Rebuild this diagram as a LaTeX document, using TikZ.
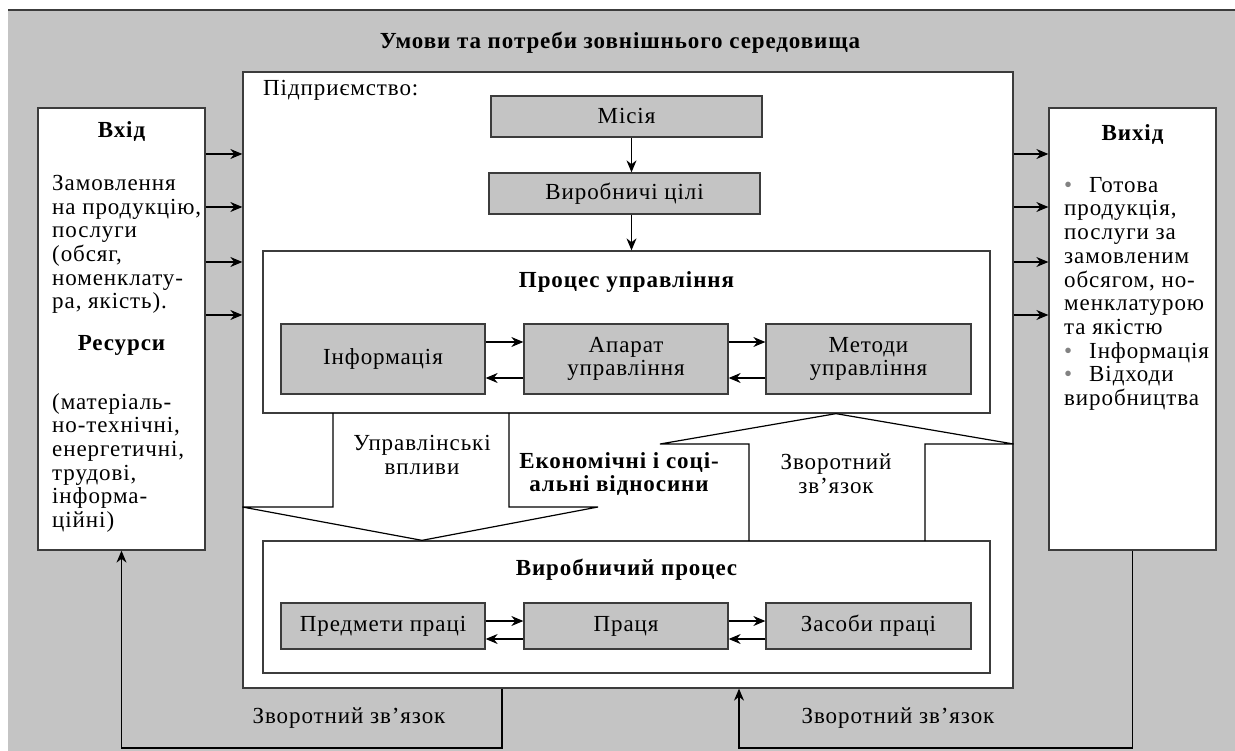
\documentclass[tikz,border=0pt]{standalone}
\usepackage{fontspec}
\setmainfont{Liberation Serif}[LetterSpace=4]
\usetikzlibrary{arrows.meta,positioning}
\definecolor{bggray}{RGB}{196,196,196}
\definecolor{linegray}{RGB}{60,60,60}
\definecolor{dotgray}{RGB}{130,130,130}
\newcommand{\itm}{\makebox[25pt][l]{\color{dotgray}\textbullet}}
\tikzset{
    txt/.style={font=\fontsize{23}{23.7}\selectfont, inner sep=0pt},
    hdr/.style={font=\fontsize{23}{23.7}\selectfont\bfseries, inner sep=0pt},
    whitebox/.style={draw=linegray, line width=1.3pt, fill=white},
    graybox/.style={draw=linegray, line width=1.3pt, fill=bggray, txt, align=center},
    shape line/.style={draw=black, line width=1.2pt},
    arr/.style={-{Stealth[length=12pt,width=10pt]}, line width=1.2pt}
}
\begin{document}
\begin{tikzpicture}[x=1pt,y=-1pt]
    \useasboundingbox (0,0) rectangle (1235,751);
    %% environment
    \fill[bggray] (8,10) rectangle (1235,751);
    \draw[linegray, line width=2.5pt] (8,10) -- (1235,10);
    \node[hdr] (env) at (620,43) {Умови та потреби зовнішнього середовища};

    %% input and output
    \node[whitebox, minimum width=167, minimum height=442] (vhid) at (121.5,329) {};
    \node[whitebox, minimum width=167, minimum height=442] (vyhid) at (1132.5,329) {};
    \node[hdr] (vhidlbl) at (121.5,132) {Вхід};
    \node[txt, align=left, anchor=north west] (orders) at (52,175)
        {Замовлення\\на продукцію,\\послуги\\(обсяг,\\номенклату-\\ра, якість).};
    \node[hdr] (reslbl) at (121.5,345) {Ресурси};
    \node[txt, align=left, anchor=north west] (res) at (52,393)
        {(матеріаль-\\но-технічні,\\енергетичні,\\трудові,\\інформа-\\ційні)};
    \node[hdr] (vyhidlbl) at (1132.5,135) {Вихід};
    \node[txt, align=left, anchor=north west] (outs) at (1064,177)
        {\itm Готова\\продукція,\\послуги за\\замовленим\\обсягом, но-\\менклатурою\\та якістю\\
         \itm Інформація\\\itm Відходи\\виробництва};

    %% enterprise
    \node[whitebox, minimum width=770, minimum height=616] (firm) at (628,380) {};
    \node[txt, anchor=west] (firmlbl) at (263,90) {Підприємство:};
    \foreach \y in {154,207,262,315} {
        \draw[arr] (vhid.east |- 0,\y) -- (firm.west |- 0,\y);
        \draw[arr] (firm.east |- 0,\y) -- (vyhid.west |- 0,\y);
    }
    \node[graybox, minimum width=271, minimum height=41] (misia) at (626.5,116.5) {Місія};
    \node[graybox, minimum width=271, minimum height=41] (goals) at (624.5,193.5) {Виробничі цілі};

    %% management process
    \node[whitebox, minimum width=727, minimum height=162] (mgmt) at (626.5,332) {};
    \node[hdr] (mgmtlbl) at (626.5,282) {Процес управління};
    \draw[arr] ([xshift=5]misia.south) -- ([xshift=5]misia.south |- goals.north);
    \draw[arr] ([xshift=7]goals.south) -- ([xshift=7]goals.south |- mgmt.north);
    \node[graybox, minimum width=204, minimum height=70] (info) at (383,359) {Інформація};
    \node[graybox, minimum width=204, minimum height=70] (apparat) at (626,359) {Апарат\\управління};
    \node[graybox, minimum width=205, minimum height=70] (methods) at (868.5,359) {Методи\\управління};
    \foreach \a/\b in {info/apparat,apparat/methods} {
        \draw[arr] ([yshift=17]\a.east) -- ([yshift=17]\b.west);
        \draw[arr] ([yshift=-19]\b.west) -- ([yshift=-19]\a.east);
    }

    %% production process
    \node[whitebox, minimum width=727, minimum height=132] (prod) at (626.5,607) {};
    \node[hdr] (prodlbl) at (626.5,570) {Виробничий процес};
    \node[graybox, minimum width=204, minimum height=46] (objects) at (383,626) {Предмети праці};
    \node[graybox, minimum width=204, minimum height=46] (labour) at (626,626) {Праця};
    \node[graybox, minimum width=205, minimum height=46] (means) at (868.5,626) {Засоби праці};
    \foreach \a/\b in {objects/labour,labour/means} {
        \draw[arr] ([yshift=5]\a.east) -- ([yshift=5]\b.west);
        \draw[arr] ([yshift=-13]\b.west) -- ([yshift=-13]\a.east);
    }

    %% control actions, down
    \draw[shape line] (333,413) -- (333,507) -- (firm.west |- 0,507) -- (prod.north -| 422,0)
        -- (598,507) -- (509,507) -- (509,413);
    \node[txt, align=center] (ctrl) at (422,455) {Управлінські\\впливи};
    \node[hdr, align=center] (econ) at (619,474) {Економічні і соці-\\альні відносини};
    %% feedback, up
    \draw[shape line] (749,541) -- (749,444) -- (660,444) -- (mgmt.south -| 836,0)
        -- (firm.east |- 0,444) -- (925,444) -- (925,541);
    \node[txt, align=center] (fbup) at (836,474) {Зворотний\\зв’язок};

    %% feedback below
    \coordinate (fbl) at (502,748);
    \draw[arr] (firm.south -| fbl) -- (fbl) -| (vhid.south);
    \node[txt] (fbllbl) at (349,718) {Зворотний зв’язок};
    \coordinate (fbr) at (739,748);
    \draw[arr] (vyhid.south) |- (fbr) -- (fbr |- firm.south);
    \node[txt] (fbrlbl) at (898,718) {Зворотний зв’язок};
\end{tikzpicture}
\end{document}
